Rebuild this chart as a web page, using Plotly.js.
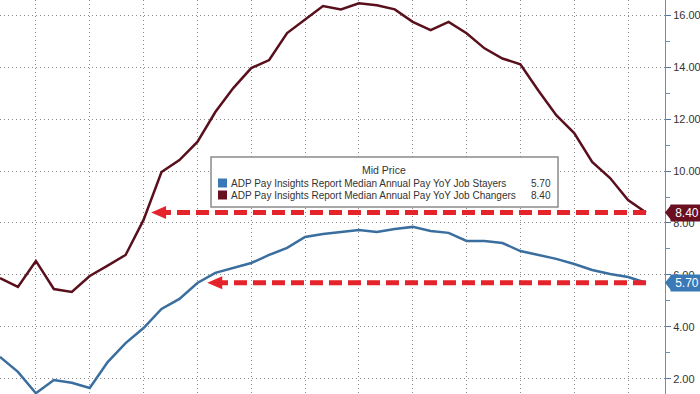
<!DOCTYPE html>
<html><head><meta charset="utf-8">
<script src="https://cdn.plot.ly/plotly-3.0.1.min.js"></script>
<style>html,body{margin:0;padding:0;background:#fff;}#chart{width:700px;height:394px;}</style>
</head><body><div id="chart"></div>
<script>
const months = ["2020-10","2020-11","2020-12","2021-01","2021-02","2021-03","2021-04","2021-05","2021-06","2021-07","2021-08","2021-09","2021-10","2021-11","2021-12","2022-01","2022-02","2022-03","2022-04","2022-05","2022-06","2022-07","2022-08","2022-09","2022-10","2022-11","2022-12","2023-01","2023-02","2023-03","2023-04","2023-05","2023-06","2023-07","2023-08","2023-09","2023-10"];
const stayers = [2.85,2.27,1.45,1.96,1.85,1.65,2.65,3.38,3.96,4.69,5.08,5.69,6.08,6.27,6.46,6.77,7.04,7.46,7.58,7.65,7.73,7.65,7.77,7.85,7.69,7.62,7.31,7.31,7.23,6.92,6.77,6.62,6.42,6.19,6.04,5.92,5.70];
const changers = [5.88,5.54,6.54,5.46,5.35,5.96,6.36,6.77,8.12,9.96,10.42,11.12,12.27,13.19,13.96,14.27,15.31,15.82,16.35,16.22,16.45,16.38,16.22,15.74,15.42,15.74,15.30,14.72,14.33,14.11,13.10,12.15,11.46,10.35,9.73,8.88,8.40];
const seriesNames = ["ADP Pay Insights Report Median Annual Pay YoY Job Stayers","ADP Pay Insights Report Median Annual Pay YoY Job Changers"];
const lastLabels = ["5.70","8.40"];
const legendTitle = "Mid Price";
const yTicks = [2,4,6,8,10,12,14,16];
const yMinorTicks = [3,5,7,9,11,13,15];

const BLUE = "#3a6e9e", MAROON = "#5a0f1c", RED = "#e5232b";
const TAGBLUE = "#3a78b6", TAGMAROON = "#6a0f20";
const W = 665, H = 394;
const px = v => v / W, py = v => (H - v) / H;
const font = "Liberation Sans, Arial, sans-serif";

const gridX = months.filter((m, i) => i % 3 === 2);
const last = months.length - 1;
const tipIdx = [11.55, 8.42];
const seriesVals = [stayers, changers];

const traces = [
  {x: months, y: stayers, type: "scatter", mode: "lines", name: seriesNames[0], line: {color: BLUE, width: 2.5}, hoverinfo: "skip"},
  {x: months, y: changers, type: "scatter", mode: "lines", name: seriesNames[1], line: {color: MAROON, width: 2.5}, hoverinfo: "skip"}
];

const shapes = [];
const annotations = [];
[0, 1].forEach(k => {
  const v = seriesVals[k][last];
  shapes.push({type: "line", xref: "x", yref: "y", x0: last, x1: tipIdx[k] + 0.6, y0: v, y1: v,
    line: {color: RED, width: 5, dash: "13px,6px"}});
  shapes.push({type: "path", xref: "x", yref: "y", xsizemode: "pixel", ysizemode: "pixel",
    xanchor: tipIdx[k], yanchor: v, path: "M0,0 L15,6.5 L15,-6.5 Z", fillcolor: RED, line: {width: 0}});
  const col = k === 0 ? TAGBLUE : TAGMAROON;
  shapes.push({type: "path", xref: "paper", yref: "y", xsizemode: "pixel", ysizemode: "pixel",
    xanchor: 1, yanchor: v, path: "M0,0 L6,7.5 L6,-7.5 Z", fillcolor: col, line: {width: 0}});
  annotations.push({xref: "paper", yref: "y", x: 1, y: v, xanchor: "left", yanchor: "middle", xshift: 5,
    text: lastLabels[k], showarrow: false, bgcolor: col, borderpad: 1, width: 30, align: "center",
    font: {family: font, size: 12, color: "#fff"}});
});

shapes.push({type: "rect", xref: "paper", yref: "paper", x0: px(211), x1: px(558), y0: py(207), y1: py(157),
  fillcolor: "#fff", line: {color: "#8a8a8a", width: 1.5}, layer: "above"});
annotations.push({xref: "paper", yref: "paper", x: px(384), y: py(170), xanchor: "center", yanchor: "middle",
  text: legendTitle, showarrow: false, font: {family: font, size: 10.5, color: "#333"}});
const rowY = [183, 195];
const sqCol = [TAGBLUE, TAGMAROON];
[0, 1].forEach(k => {
  shapes.push({type: "rect", xref: "paper", yref: "paper", x0: px(218), x1: px(227), y0: py(rowY[k] + 4.5), y1: py(rowY[k] - 4.5),
    fillcolor: sqCol[k], line: {width: 0}, layer: "above"});
  annotations.push({xref: "paper", yref: "paper", x: px(229), y: py(rowY[k]), xanchor: "left", yanchor: "middle",
    text: seriesNames[k], showarrow: false, font: {family: font, size: 10, color: "#333"}});
  annotations.push({xref: "paper", yref: "paper", x: px(553), y: py(rowY[k]), xanchor: "right", yanchor: "middle",
    text: lastLabels[k], showarrow: false, font: {family: font, size: 10, color: "#333"}});
});

const layout = {
  width: 700, height: 394,
  margin: {l: 0, r: 35, t: 0, b: 0, pad: 0},
  paper_bgcolor: "#fff", plot_bgcolor: "#fff",
  showlegend: false,
  xaxis: {type: "category", range: [0, 37.06], tickmode: "array", tickvals: gridX, showticklabels: false,
    showgrid: true, gridcolor: "#8a8a8a", griddash: "1px,3px", gridwidth: 1, zeroline: false, ticks: "", showline: false},
  yaxis: {side: "right", range: [1.42, 16.58], tickmode: "array", tickvals: yTicks, tickformat: ".2f",
    showgrid: true, gridcolor: "#8a8a8a", griddash: "1px,3px", gridwidth: 1, zeroline: false,
    showline: true, linecolor: "#6d8fb3", linewidth: 1, ticks: "outside", ticklen: 5, tickcolor: "#4f77a3",
    minor: {tickmode: "array", tickvals: yMinorTicks, ticks: "outside", ticklen: 4, tickcolor: "#6d8fb3", showgrid: false},
    tickfont: {family: font, size: 11, color: "#333"}},
  shapes: shapes,
  annotations: annotations
};
Plotly.newPlot("chart", traces, layout, {staticPlot: true, displayModeBar: false});
</script>
</body></html>
